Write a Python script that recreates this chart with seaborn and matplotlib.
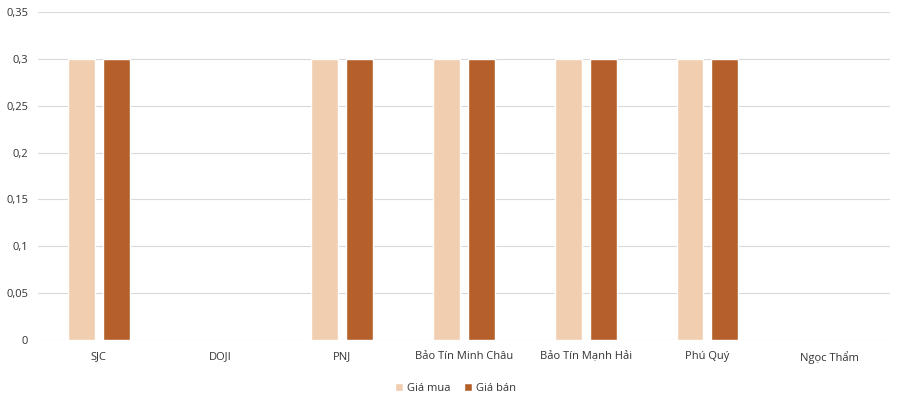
import pandas as pd
import numpy as np
import matplotlib.pyplot as plt
import seaborn as sns
from matplotlib.ticker import FuncFormatter

# du lieu
categories = ["SJC", "DOJI", "PNJ", "Bảo Tín Minh Châu", "Bảo Tín Mạnh Hải", "Phú Quý", "Ngọc Thẩm"]
gia_mua = [0.3, 0, 0.3, 0.3, 0.3, 0.3, 0]
gia_ban = [0.3, 0, 0.3, 0.3, 0.3, 0.3, 0]
series = ["Giá mua", "Giá bán"]
colors = ["#F1CEB0", "#B5602B"]

df = pd.DataFrame({
    "cat": categories * 2,
    "val": gia_mua + gia_ban,
    "series": [series[0]] * len(categories) + [series[1]] * len(categories),
})

sns.set_style("white")
plt.rcParams["font.family"] = ["Open Sans", "DejaVu Sans"]

fig = plt.figure(figsize=(9, 4), dpi=100)
ax = fig.add_axes([0.042, 0.15, 0.947, 0.82])

sns.barplot(data=df, x="cat", y="val", hue="series", palette=colors,
            width=0.574, gap=0.23, ax=ax, saturation=1, legend=True)

ax.set_ylim(0, 0.35)
ax.set_yticks(np.arange(0, 0.351, 0.05))
ax.yaxis.set_major_formatter(FuncFormatter(lambda v, p: ("%g" % round(v, 2)).replace(".", ",")))
ax.grid(axis="y", color="#D9D9D9", linewidth=0.8)
ax.set_axisbelow(True)
for s in ax.spines.values():
    s.set_visible(False)
ax.tick_params(axis="both", length=0, labelsize=8, colors="#333333")
ax.tick_params(axis="x", pad=8)
ax.tick_params(axis="y", pad=7)
ax.set_xlabel("")
ax.set_ylabel("")
ax.set_xlim(-0.5, len(categories) - 0.5)

ax.legend(loc="upper center", bbox_to_anchor=(0.49, -0.1), ncol=2, frameon=False,
          fontsize=8, handlelength=0.7, handleheight=0.7, handletextpad=0.4,
          columnspacing=1.2, labelcolor="#333333")

fig.savefig("out.png", dpi=100)
